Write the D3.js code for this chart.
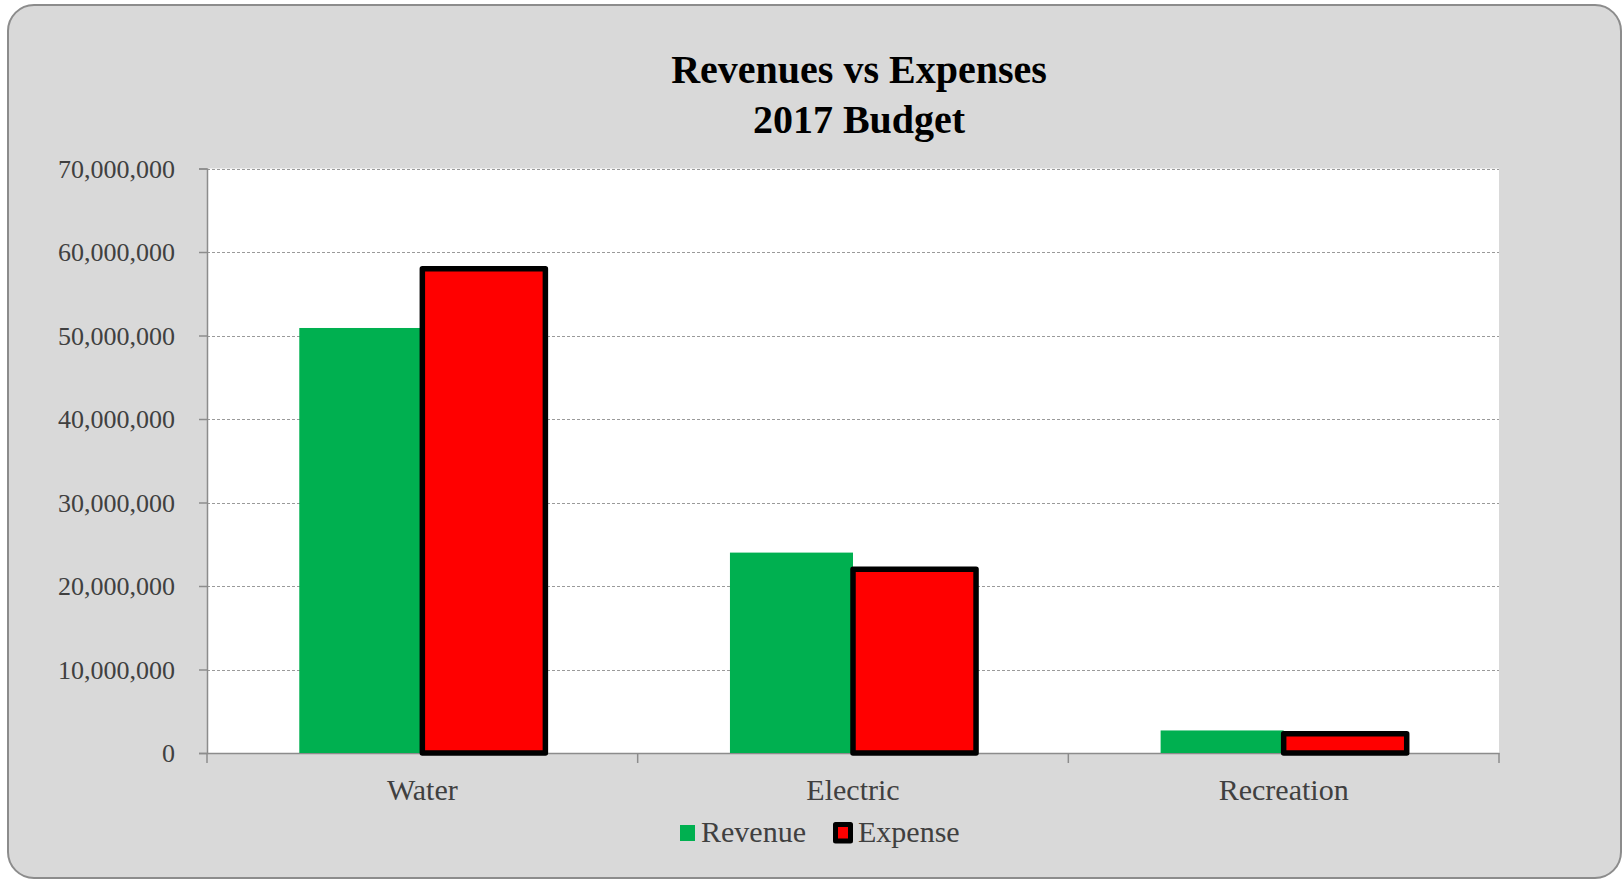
<!DOCTYPE html>
<html>
<head>
<meta charset="utf-8">
<script src="https://cdn.jsdelivr.net/npm/d3@7"></script>
<style>
  html, body { margin: 0; padding: 0; background: #ffffff; }
  svg { display: block; }
  text { font-family: "Liberation Serif", "DejaVu Serif", serif; }
</style>
</head>
<body>
<svg id="chart" width="1623" height="880"></svg>
<script>
// ---- data ----
const categories = ["Water", "Electric", "Recreation"];
const seriesNames = ["Revenue", "Expense"];
const revenue = [50900000, 24000000, 2700000];
const expense = [58000000, 22000000, 2300000];
const yTicks = [0, 10000000, 20000000, 30000000, 40000000, 50000000, 60000000, 70000000];
const titleLines = ["Revenues vs Expenses", "2017 Budget"];

const seriesValues = { Revenue: revenue, Expense: expense };
const colors = { Revenue: "#00b050", Expense: "#ff0000" };

const svg = d3.select("#chart");
const W = 1623, H = 880;

// chart background
svg.append("rect")
  .attr("x", 8).attr("y", 5)
  .attr("width", W - 10).attr("height", H - 7)
  .attr("rx", 26).attr("ry", 26)
  .attr("fill", "#d9d9d9")
  .attr("stroke", "#8c8c8c")
  .attr("stroke-width", 2);

const plot = { left: 207, top: 168.5, right: 1499, bottom: 753 };

// plot area
svg.append("rect")
  .attr("x", plot.left).attr("y", plot.top)
  .attr("width", plot.right - plot.left).attr("height", plot.bottom - plot.top)
  .attr("fill", "#ffffff");

const y = d3.scaleLinear().domain([0, 70000000]).range([plot.bottom, plot.top]);
const x0 = d3.scaleBand().domain(categories).range([plot.left, plot.right]).padding(0);
const x1 = d3.scaleBand().domain(seriesNames).range([0, x0.bandwidth()])
  .paddingInner(0).paddingOuter(0.75);

// gridlines
svg.append("g")
  .selectAll("line")
  .data(yTicks.filter(d => d > 0))
  .join("line")
  .attr("x1", plot.left).attr("x2", plot.right)
  .attr("y1", d => Math.round(y(d)) + 0.5).attr("y2", d => Math.round(y(d)) + 0.5)
  .attr("stroke", "#9a9a9a")
  .attr("stroke-width", 1)
  .attr("stroke-dasharray", "3,2");

// y axis
const yAxis = d3.axisLeft(y)
  .tickValues(yTicks)
  .tickSize(8)
  .tickPadding(24)
  .tickFormat(d3.format(","));
const gy = svg.append("g")
  .attr("transform", `translate(${plot.left},0)`)
  .call(yAxis);
gy.select(".domain").attr("stroke", "#8c8c8c").attr("stroke-width", 1.5);
gy.selectAll(".tick line").attr("stroke", "#8c8c8c").attr("stroke-width", 1.5);
gy.selectAll(".tick text")
  .attr("font-family", "Liberation Serif, serif")
  .attr("font-size", 26)
  .attr("fill", "#404040")
  .attr("dy", "0.34em");

// x axis
const xAxis = d3.axisBottom(x0).tickSize(0).tickPadding(0).tickFormat(d => d);
const gx = svg.append("g")
  .attr("transform", `translate(0,${plot.bottom})`)
  .call(xAxis);
gx.select(".domain").attr("stroke", "#8c8c8c").attr("stroke-width", 1.5);
gx.selectAll(".tick text")
  .attr("font-family", "Liberation Serif, serif")
  .attr("font-size", 30)
  .attr("fill", "#404040")
  .attr("dy", null)
  .attr("y", 47);
// category separator ticks
const sepX = categories.map(c => x0(c)).concat([x0(categories[categories.length - 1]) + x0.bandwidth()]);
gx.append("g").selectAll("line")
  .data(sepX)
  .join("line")
  .attr("x1", d => d).attr("x2", d => d)
  .attr("y1", 0).attr("y2", 10)
  .attr("stroke", "#8c8c8c").attr("stroke-width", 1.5);

// bars
const barData = [];
categories.forEach((c, i) => {
  seriesNames.forEach(s => barData.push({ cat: c, series: s, value: seriesValues[s][i] }));
});

svg.append("g")
  .selectAll("rect")
  .data(barData)
  .join("rect")
  .attr("x", d => x0(d.cat) + x1(d.series))
  .attr("y", d => y(d.value))
  .attr("width", x1.bandwidth())
  .attr("height", d => y(0) - y(d.value))
  .attr("fill", d => colors[d.series])
  .attr("stroke", d => d.series === "Expense" ? "#000000" : "none")
  .attr("stroke-width", d => d.series === "Expense" ? 5.5 : 0)
  .attr("stroke-linejoin", "round");

// title
const title = svg.append("text")
  .attr("text-anchor", "middle")
  .attr("font-family", "Liberation Serif, serif")
  .attr("font-weight", "bold")
  .attr("font-size", 40)
  .attr("fill", "#000000");
titleLines.forEach((t, i) => {
  title.append("tspan").attr("x", 859).attr("y", 83 + i * 50).text(t);
});

// legend
const legend = svg.append("g");
const legendItems = [
  { name: "Revenue", sx: 680, sy: 825, sw: 15, sh: 16, tx: 701 },
  { name: "Expense", sx: 835.5, sy: 824.5, sw: 15, sh: 16.5, tx: 858 }
];
legendItems.forEach(it => {
  legend.append("rect")
    .attr("x", it.sx).attr("y", it.sy)
    .attr("width", it.sw).attr("height", it.sh)
    .attr("fill", colors[it.name])
    .attr("stroke", it.name === "Expense" ? "#000000" : "none")
    .attr("stroke-width", it.name === "Expense" ? 5 : 0)
    .attr("stroke-linejoin", "round");
  legend.append("text")
    .attr("x", it.tx).attr("y", 842)
    .attr("font-family", "Liberation Serif, serif")
    .attr("font-size", 30)
    .attr("fill", "#404040")
    .text(it.name);
});
</script>
</body>
</html>
